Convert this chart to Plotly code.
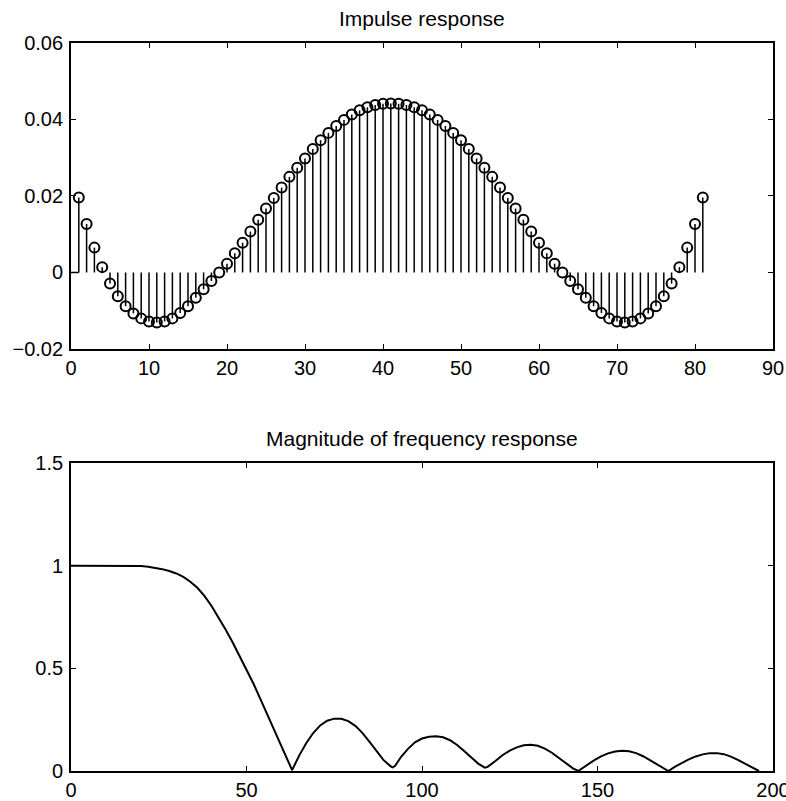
import plotly.graph_objects as go
from plotly.subplots import make_subplots

# ---- Impulse response (stem plot) ----
n_idx = list(range(1, 82))
h_left = [0.0196, 0.0127, 0.0065, 0.0014, -0.0029, -0.0062, -0.0088, -0.0107, -0.0120, -0.0128,
          -0.0131, -0.0128, -0.0120, -0.0106, -0.0088, -0.0066, -0.0044, -0.0022, 0.0000, 0.0023,
          0.0050, 0.0078, 0.0107, 0.0138, 0.0167, 0.0195, 0.0222, 0.0250, 0.0274, 0.0298,
          0.0323, 0.0346, 0.0365, 0.0383, 0.0399, 0.0413, 0.0424, 0.0432, 0.0438, 0.0441, 0.0442]
h_vals = h_left + h_left[-2::-1]

# ---- Magnitude of frequency response ----
f_x = [0, 5, 10, 15, 18, 20, 22, 24, 26, 28, 30, 32, 34, 36, 38, 40, 42, 44, 46, 48, 50,
       52, 54, 56, 58, 60, 62, 63,
       65, 67, 69, 71, 73, 75, 77, 79, 81, 83, 85, 87, 89, 91, 91.6, 92.3,
       94, 96, 98, 100, 102, 104, 106, 108, 110, 112, 114, 116, 117.9, 118.7,
       121, 123, 125, 127, 129, 131, 133, 135, 137, 139, 141, 143, 144.5,
       147, 149, 151, 153, 155, 157, 159, 161, 163, 165, 167, 169, 170.2,
       172, 174, 176, 178, 180, 182, 184, 186, 188, 190, 192, 194, 196]
f_mag = [1.0, 1.0, 1.0, 1.0, 0.9993, 0.998, 0.995, 0.99, 0.983, 0.974, 0.962, 0.945, 0.922,
         0.892, 0.853, 0.805, 0.75, 0.69, 0.628, 0.562, 0.494, 0.425, 0.349, 0.271, 0.192,
         0.113, 0.036, 0.004,
         0.075, 0.135, 0.185, 0.222, 0.245, 0.255, 0.254, 0.243, 0.22, 0.186, 0.143, 0.098, 0.054,
         0.024, 0.018, 0.024,
         0.068, 0.108, 0.14, 0.158, 0.167, 0.169, 0.164, 0.15, 0.127, 0.097, 0.066, 0.036, 0.016, 0.02,
         0.05, 0.078, 0.099, 0.115, 0.125, 0.128, 0.123, 0.109, 0.089, 0.064, 0.039, 0.013, 0.0,
         0.03, 0.052, 0.071, 0.086, 0.095, 0.099, 0.096, 0.087, 0.072, 0.053, 0.033, 0.012, 0.0,
         0.02, 0.04, 0.057, 0.071, 0.081, 0.087, 0.087, 0.082, 0.07, 0.054, 0.036, 0.017, 0.0]

top_xticks = [0, 10, 20, 30, 40, 50, 60, 70, 80, 90]
top_yticks = [-0.02, 0, 0.02, 0.04, 0.06]
top_ytext = ["\u22120.02", "0", "0.02", "0.04", "0.06"]
bot_xticks = [0, 50, 100, 150, 200]
bot_yticks = [0, 0.5, 1, 1.5]
bot_ytext = ["0", "0.5", "1", "1.5"]

title_top = "Impulse response"
title_bot = "Magnitude of frequency response"

FONT = "Liberation Sans, Arial, Helvetica, sans-serif"

fig = make_subplots(rows=2, cols=1, vertical_spacing=0.1)

# stems
sx, sy = [], []
for n, v in zip(n_idx, h_vals):
    sx += [n, n, None]
    sy += [0, v, None]
fig.add_trace(go.Scatter(x=sx, y=sy, mode="lines", line=dict(color="black", width=1.5),
                         hoverinfo="skip", showlegend=False), row=1, col=1)
# short baseline segment from the axis to first sample
fig.add_trace(go.Scatter(x=[top_xticks[0], n_idx[0]], y=[0, 0], mode="lines",
                         line=dict(color="black", width=1.5), showlegend=False), row=1, col=1)
fig.add_trace(go.Scatter(x=n_idx, y=h_vals, mode="markers",
                         marker=dict(symbol="circle-open", size=10, color="black",
                                     line=dict(width=2)),
                         showlegend=False), row=1, col=1)

fig.add_trace(go.Scatter(x=f_x, y=f_mag, mode="lines", line=dict(color="black", width=2),
                         showlegend=False), row=2, col=1)

axis_common = dict(showline=True, linecolor="black", linewidth=1.8, mirror="allticks",
                   ticks="inside", ticklen=5, tickwidth=1.4, tickcolor="black",
                   showgrid=False, zeroline=False, automargin=False,
                   ticklabeloverflow="allow",
                   tickfont=dict(family=FONT, size=20, color="black"))

fig.update_xaxes(range=[0, 90], tickvals=top_xticks, ticktext=[str(t) for t in top_xticks],
                 ticklabelstandoff=0, row=1, col=1, **axis_common)
fig.update_yaxes(range=[-0.02, 0.06], tickvals=top_yticks, ticktext=top_ytext,
                 ticklabelstandoff=2, row=1, col=1, **axis_common)
fig.update_xaxes(range=[0, 200], tickvals=bot_xticks, ticktext=[str(t) for t in bot_xticks],
                 ticklabelstandoff=0, row=2, col=1, **axis_common)
fig.update_yaxes(range=[0, 1.5], tickvals=bot_yticks, ticktext=bot_ytext,
                 ticklabelstandoff=2, row=2, col=1, **axis_common)

fig.update_layout(
    width=786, height=801,
    margin=dict(l=71, r=13, t=43, b=30, autoexpand=False),
    plot_bgcolor="white", paper_bgcolor="white",
    font=dict(family=FONT, color="black"),
    yaxis=dict(domain=[0.5797, 1.0]),
    yaxis2=dict(domain=[0.0, 0.4231]),
    annotations=[
        dict(text=title_top, xref="x domain", yref="y domain", x=0.5, y=1.0,
             xanchor="center", yanchor="bottom", yshift=11, showarrow=False,
             font=dict(family=FONT, size=21, color="black")),
        dict(text=title_bot, xref="x2 domain", yref="y2 domain", x=0.5, y=1.0,
             xanchor="center", yanchor="bottom", yshift=11, showarrow=False,
             font=dict(family=FONT, size=21, color="black")),
    ],
)

fig.write_html("out.html", config={"displayModeBar": False},
               post_script="document.body.style.margin='0px';document.body.style.overflow='hidden';")
